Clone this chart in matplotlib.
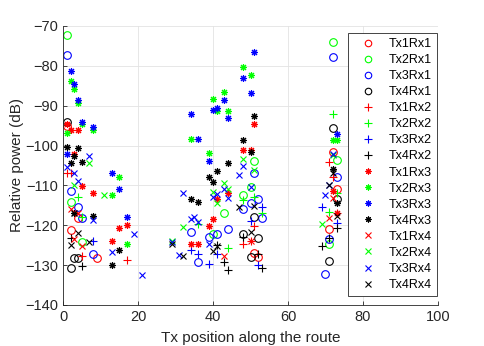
import matplotlib
matplotlib.use('Agg')
import matplotlib.pyplot as plt

plt.rcParams['font.family'] = ['Liberation Sans', 'DejaVu Sans']

# Rx1 (circles)
x_tx1rx1 = [1, 2, 4, 9, 51, 52, 71, 72, 73]
y_tx1rx1 = [-95, -121.1, -118.3, -128.3, -127, -128, -121, -101.7, -111]
x_tx2rx1 = [1, 2, 5, 40, 43, 48, 50, 51, 71, 72, 73]
y_tx2rx1 = [-72.2, -114.1, -124.3, -122.1, -117, -112.3, -110.4, -103.9, -124.7, -74, -103.7]
x_tx3rx1 = [1, 2, 4, 5, 8, 34, 36, 39, 41, 44, 48, 50, 51, 52, 53, 70, 71, 72, 73]
y_tx3rx1 = [-77.2, -111.4, -115.4, -118.3, -127.3, -121.8, -129.3, -123, -122.3, -121,
            -115.9, -114.3, -107, -113.4, -118.3, -132.2, -123.5, -77.9, -108]
x_tx4rx1 = [1, 2, 3, 4, 48, 50, 51, 52, 71, 72, 73]
y_tx4rx1 = [-94, -130.7, -128.3, -128.3, -122.2, -127.9, -117.9, -123.1, -129, -95.6, -113.5]

# Rx2 (plus)
x_tx1rx2 = [1, 2, 5, 17, 48, 50, 51, 71, 72, 73]
y_tx1rx2 = [-107, -107, -127.6, -128.7, -124.8, -124, -120.2, -104.1, -108, -117]
x_tx2rx2 = [4, 5, 36, 44, 48, 51, 53, 71, 72, 73]
y_tx2rx2 = [-113, -118, -119.7, -125.8, -113.7, -112.9, -117, -116.6, -92, -111.9]
x_tx3rx2 = [8, 34, 36, 39, 41, 50, 52, 53, 69, 73]
y_tx3rx2 = [-124, -126.2, -127.2, -129.6, -127.2, -118.9, -130, -115.4, -115.4, -119.4]
x_tx4rx2 = [2, 5, 41, 43, 44, 48, 52, 53, 69, 71, 73]
y_tx4rx2 = [-123.3, -130.2, -125, -129.3, -131.1, -123, -127.2, -130.8, -125.1, -123.1, -120.8]

# Rx3 (asterisks)
x_tx1rx3 = [1, 2, 3, 4, 5, 8, 13, 15, 17, 34, 36, 39, 40, 41, 44, 48, 50, 51, 72, 73]
y_tx1rx3 = [-94.6, -96.1, -102.2, -96, -110.2, -112, -124, -120.6, -120, -124.6, -124.8,
            -120.2, -118.5, -113.3, -111.9, -101.2, -101.2, -94.6, -111.4, -117]
x_tx2rx3 = [1, 2, 3, 4, 5, 8, 13, 15, 17, 34, 39, 40, 41, 43, 44, 48, 50, 72, 73]
y_tx2rx3 = [-96.8, -83.9, -85.7, -89.3, -94.6, -96.1, -112.3, -108, -124.6, -98.4, -101.8,
            -88.2, -91.4, -86.6, -91.4, -80.3, -82.4, -98.7, -98.7]
x_tx3rx3 = [1, 2, 3, 4, 5, 8, 13, 15, 17, 34, 36, 39, 40, 41, 43, 44, 48, 50, 51, 73]
y_tx3rx3 = [-102.2, -81.3, -84.6, -88.5, -94, -95.3, -106.8, -110.9, -117.9, -92, -98.4,
            -104, -91.1, -90.7, -88.6, -93.2, -83, -86.7, -76.6, -97]
x_tx4rx3 = [1, 2, 3, 3, 4, 5, 8, 13, 15, 34, 36, 39, 40, 41, 44, 48, 50, 51, 72, 73]
y_tx4rx3 = [-100.3, -104.3, -102.7, -117, -100.6, -104.1, -117.7, -130, -126.2, -113.4,
            -114.1, -107.8, -109.2, -106.5, -104.5, -98.7, -101.6, -92.6, -106, -114.4]

# Rx4 (crosses)
x_tx1rx4 = [2, 3, 4, 5, 43, 50, 71, 72]
y_tx1rx4 = [-115.9, -123.5, -117, -125.2, -127.6, -124, -118.3, -113.1]
x_tx2rx4 = [3, 7, 11, 29, 32, 40, 41, 43, 44, 48, 51, 69, 72]
y_tx2rx4 = [-110, -104.3, -112.3, -123.9, -120.5, -111.6, -114.4, -109.4, -110.8, -103.3,
            -106.2, -119.7, -102.4]
x_tx3rx4 = [1, 3, 4, 7, 8, 13, 19, 21, 29, 31, 32, 34, 35, 36, 39, 40, 41, 43, 44, 47,
            48, 50, 70, 71, 72]
y_tx3rx4 = [-105.5, -107, -108.9, -102.6, -118.7, -126.6, -122.3, -132.5, -124.2, -127.5,
            -111.9, -118.5, -117.9, -119.1, -124.7, -113, -112.2, -111, -113.1, -107.5,
            -105.1, -110.4, -112.4, -109.8, -102.2]
x_tx4rx4 = [2, 3, 4, 7, 29, 32, 40, 41, 47, 50, 51, 71, 72, 73]
y_tx4rx4 = [-125, -117, -122, -124.3, -124.6, -127.7, -126.4, -125.2, -115.4, -121.6,
            -115.1, -109.8, -107, -117.7]

labels = ['Tx1Rx1', 'Tx2Rx1', 'Tx3Rx1', 'Tx4Rx1',
          'Tx1Rx2', 'Tx2Rx2', 'Tx3Rx2', 'Tx4Rx2',
          'Tx1Rx3', 'Tx2Rx3', 'Tx3Rx3', 'Tx4Rx3',
          'Tx1Rx4', 'Tx2Rx4', 'Tx3Rx4', 'Tx4Rx4']
xs = [x_tx1rx1, x_tx2rx1, x_tx3rx1, x_tx4rx1, x_tx1rx2, x_tx2rx2, x_tx3rx2, x_tx4rx2,
      x_tx1rx3, x_tx2rx3, x_tx3rx3, x_tx4rx3, x_tx1rx4, x_tx2rx4, x_tx3rx4, x_tx4rx4]
ys = [y_tx1rx1, y_tx2rx1, y_tx3rx1, y_tx4rx1, y_tx1rx2, y_tx2rx2, y_tx3rx2, y_tx4rx2,
      y_tx1rx3, y_tx2rx3, y_tx3rx3, y_tx4rx3, y_tx1rx4, y_tx2rx4, y_tx3rx4, y_tx4rx4]

colors = ['#ff0000', '#00ff00', '#0000ff', '#000000']
markers = ['o', '+', (8, 2, 0), 'x']
msizes = [5.5, 6, 5, 4.5]

fig = plt.figure(figsize=(4.85, 3.46), dpi=100)
ax = fig.add_axes([0.130, 0.1185, 0.773, 0.8065])

for i in range(16):
    rx = i // 4
    tx = i % 4
    mfc = 'none' if rx == 0 else colors[tx]
    ax.plot(xs[i], ys[i], linestyle='none', marker=markers[rx], ms=msizes[rx],
            mec=colors[tx], mfc=mfc, mew=0.8, label=labels[i])

ax.set_xlim(0, 100)
ax.set_ylim(-140, -70)
ax.set_xticks(range(0, 101, 20))
ax.set_yticks(range(-140, -69, 10))
ax.grid(True, color='#e3e3e3', linewidth=0.6)
ax.set_axisbelow(True)
for s in ['top', 'right']:
    ax.spines[s].set_visible(False)
for s in ['left', 'bottom']:
    ax.spines[s].set_color('#262626')
    ax.spines[s].set_linewidth(0.6)
ax.tick_params(direction='in', length=3, width=0.6, colors='#262626', labelsize=10.5)
ax.set_xlabel('Tx position along the route', fontsize=11, color='#262626', labelpad=5)
ax.set_ylabel('Relative power (dB)', fontsize=11, color='#262626', labelpad=0.5)

leg = ax.legend(loc='upper right', bbox_to_anchor=(437 / 485, 1 - 33 / 346),
                bbox_transform=fig.transFigure, borderaxespad=0,
                fontsize=9, numpoints=1, handlelength=2.5, markerscale=0.85,
                labelspacing=0.325, fancybox=False, edgecolor='#262626',
                framealpha=1, borderpad=0.4, handletextpad=0.4)
leg.get_frame().set_linewidth(0.6)

fig.savefig('out.png', dpi=100)
